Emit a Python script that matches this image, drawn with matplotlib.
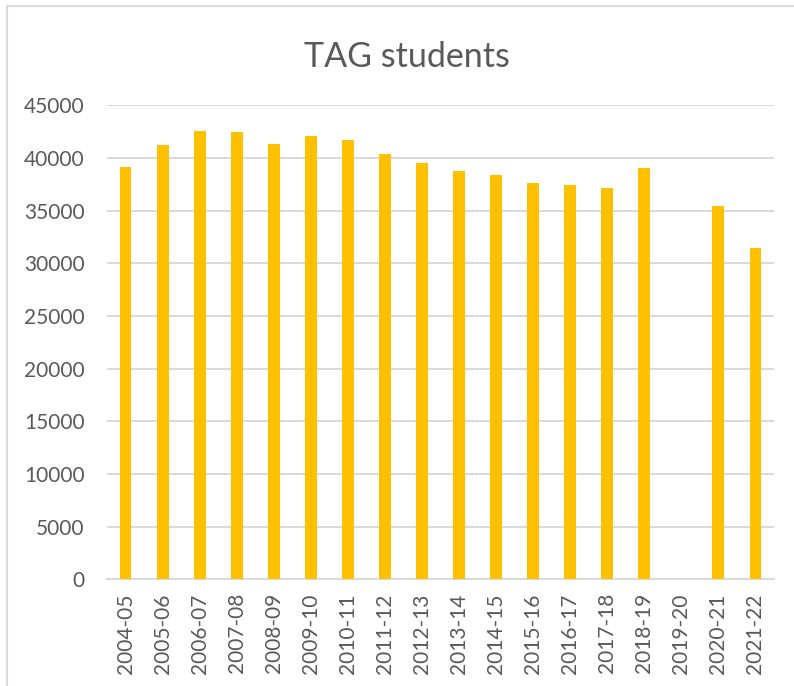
import matplotlib
matplotlib.use("Agg")
import matplotlib.pyplot as plt
from matplotlib.patches import Rectangle
import numpy as np

# school years and number of TAG students (2019-20 has no data)
years = ['2004-05', '2005-06', '2006-07', '2007-08', '2008-09', '2009-10',
         '2010-11', '2011-12', '2012-13', '2013-14', '2014-15', '2015-16',
         '2016-17', '2017-18', '2018-19', '2019-20', '2020-21', '2021-22']
students = [39180, 41270, 42530, 42470, 41360, 42090,
            41710, 40380, 39550, 38740, 38390, 37630,
            37440, 37150, 39060, np.nan, 35440, 31420]
yticks = [0, 5000, 10000, 15000, 20000, 25000, 30000, 35000, 40000, 45000]

plt.rcParams['font.family'] = ['Lato', 'DejaVu Sans']
txt_col = '#595959'
grid_col = '#d9d9d9'

fig = plt.figure(figsize=(7.94, 6.86), dpi=100)
ax = fig.add_axes([107 / 794, 1 - 579.3 / 686, 667 / 794, 474 / 686])

x = np.arange(len(years))
ax.bar(x, students, width=0.32, color='#FFC000', zorder=3)

ax.set_xlim(-0.5, len(years) - 0.5)
ax.set_ylim(0, 45000)
ax.set_yticks(yticks)
ax.set_yticklabels([str(v) for v in yticks])
ax.set_xticks(x)
ax.set_xticklabels(years, rotation=90)
ax.yaxis.grid(True, color=grid_col, linewidth=1.4, zorder=0)
ax.tick_params(axis='both', length=0, labelsize=15, labelcolor=txt_col)
ax.tick_params(axis='y', pad=16)
ax.tick_params(axis='x', pad=10)
for s in ['top', 'right', 'left']:
    ax.spines[s].set_visible(False)
ax.spines['bottom'].set_color(grid_col)
ax.spines['bottom'].set_linewidth(1.4)

fig.text(407 / 794, 1 - 67 / 686, 'TAG students', ha='center', va='baseline',
         fontsize=24.5, color=txt_col)

# chart frame, runs off the right and bottom of the picture
fig.patches.append(Rectangle((7 / 794, -0.05), 1.1, 1 - 6 / 686 + 0.05,
                             transform=fig.transFigure, fill=False,
                             edgecolor=grid_col, linewidth=1.5))

fig.savefig('out.png', dpi=100)
